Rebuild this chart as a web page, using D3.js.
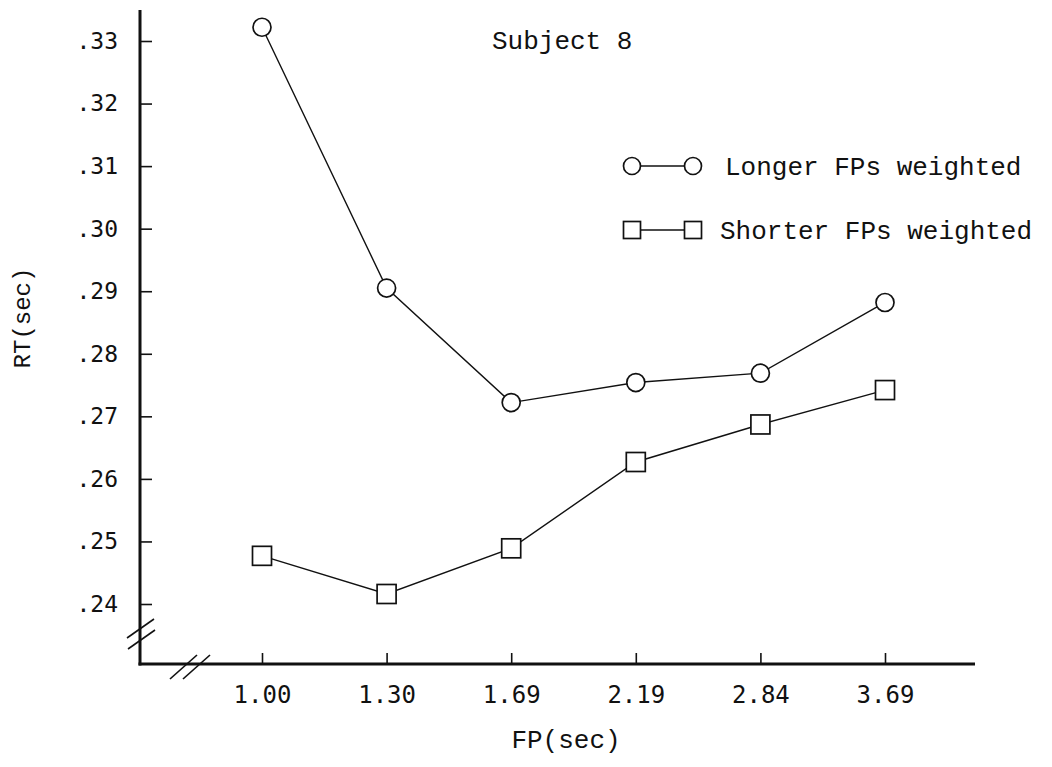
<!DOCTYPE html>
<html>
<head>
<meta charset="utf-8">
<script src="https://cdn.jsdelivr.net/npm/d3@7"></script>
<style>
  body { margin: 0; background: #fff; }
  svg { display: block; }
</style>
</head>
<body>
<svg id="chart"></svg>
<script>
// foreperiod categories (x) and mean RT per condition
var fpLabels = ["1.00", "1.30", "1.69", "2.19", "2.84", "3.69"];
var longerWeighted = [0.3322, 0.2905, 0.2722, 0.2754, 0.2769, 0.2882];
var shorterWeighted = [0.2477, 0.2416, 0.2489, 0.2627, 0.2687, 0.2742];
var rtTicks = [0.24, 0.25, 0.26, 0.27, 0.28, 0.29, 0.30, 0.31, 0.32, 0.33];
var legendNames = ["Longer FPs weighted", "Shorter FPs weighted"];

var svgWidth = 1052, svgHeight = 767;
var ink = "#111";
var mono = "'Liberation Mono', 'Courier New', monospace";
var tickFont = "'DejaVu Sans Mono', monospace";

var svg = d3.select("#chart")
    .attr("width", svgWidth)
    .attr("height", svgHeight);

var axisX0 = 140, axisY0 = 664; // where the two axes meet

var x = d3.scalePoint()
    .domain(fpLabels)
    .range([262, 885]);

var y = d3.scaleLinear()
    .domain([0.24, 0.33])
    .range([604, 41]);

// y axis ticks (pointing inward) + labels like ".33"
var yAxis = svg.append("g")
    .attr("transform", "translate(" + axisX0 + ",0)")
    .call(d3.axisLeft(y)
        .tickValues(rtTicks)
        .tickSize(-12)
        .tickPadding(22)
        .tickFormat(function(d) { return "." + Math.round(d * 100); }));
yAxis.select(".domain").remove();
yAxis.selectAll(".tick line").attr("stroke", ink).attr("stroke-width", 1.6);
yAxis.selectAll(".tick text")
    .attr("fill", ink)
    .style("font-family", tickFont)
    .style("font-size", "23px");

// x axis ticks (pointing up)
var xAxis = svg.append("g")
    .attr("transform", "translate(0," + axisY0 + ")")
    .call(d3.axisBottom(x)
        .tickSize(-11)
        .tickPadding(22));
xAxis.select(".domain").remove();
xAxis.selectAll(".tick line").attr("stroke", ink).attr("stroke-width", 1.6);
xAxis.selectAll(".tick text")
    .attr("fill", ink)
    .style("font-family", tickFont)
    .style("font-size", "24px");

// heavy axis lines
svg.append("line")
    .attr("x1", axisX0).attr("y1", 10)
    .attr("x2", axisX0).attr("y2", axisY0 + 1.5)
    .attr("stroke", ink).attr("stroke-width", 3);
svg.append("line")
    .attr("x1", axisX0 - 1.5).attr("y1", axisY0)
    .attr("x2", 975).attr("y2", axisY0)
    .attr("stroke", ink).attr("stroke-width", 3);

// break marks (//) on both axes
var breaks = [
    [[127, 638], [154, 619]], [[128, 649], [155, 630]],
    [[170, 679], [197, 655]], [[183, 679], [210, 655]]
];
svg.selectAll("line.break")
    .data(breaks)
    .enter().append("line")
    .attr("class", "break")
    .attr("x1", function(d) { return d[0][0]; })
    .attr("y1", function(d) { return d[0][1]; })
    .attr("x2", function(d) { return d[1][0]; })
    .attr("y2", function(d) { return d[1][1]; })
    .attr("stroke", ink).attr("stroke-width", 1.6);

// axis titles
svg.append("text")
    .attr("transform", "translate(30,318) rotate(-90)")
    .attr("text-anchor", "middle")
    .attr("fill", ink)
    .style("font-family", mono)
    .style("font-size", "24px")
    .text("RT(sec)");

svg.append("text")
    .attr("x", 566).attr("y", 748)
    .attr("text-anchor", "middle")
    .attr("fill", ink)
    .style("font-family", mono)
    .style("font-size", "26px")
    .text("FP(sec)");

svg.append("text")
    .attr("x", 492).attr("y", 49)
    .attr("fill", ink)
    .style("font-family", mono)
    .style("font-size", "26px")
    .text("Subject 8");

// series lines
var line = d3.line()
    .x(function(d, i) { return x(fpLabels[i]); })
    .y(function(d) { return y(d); });

[longerWeighted, shorterWeighted].forEach(function(series) {
    svg.append("path")
        .datum(series)
        .attr("fill", "none")
        .attr("stroke", ink)
        .attr("stroke-width", 1.4)
        .attr("d", line);
});

// circle markers
svg.selectAll("circle.longer")
    .data(longerWeighted)
    .enter().append("circle")
    .attr("class", "longer")
    .attr("cx", function(d, i) { return x(fpLabels[i]); })
    .attr("cy", function(d) { return y(d); })
    .attr("r", 9)
    .attr("fill", "#fff")
    .attr("stroke", ink)
    .attr("stroke-width", 1.7);

// square markers
var sq = 19;
svg.selectAll("rect.shorter")
    .data(shorterWeighted)
    .enter().append("rect")
    .attr("class", "shorter")
    .attr("x", function(d, i) { return x(fpLabels[i]) - sq / 2; })
    .attr("y", function(d) { return y(d) - sq / 2; })
    .attr("width", sq).attr("height", sq)
    .attr("fill", "#fff")
    .attr("stroke", ink)
    .attr("stroke-width", 1.7);

// legend
var legend = svg.append("g");
var rowY = [166, 230];

legendNames.forEach(function(name, i) {
    var cy = rowY[i];
    legend.append("line")
        .attr("x1", 632).attr("y1", cy)
        .attr("x2", 693).attr("y2", cy)
        .attr("stroke", ink).attr("stroke-width", 1.4);
    [632, 693].forEach(function(cx) {
        if (i == 0) {
            legend.append("circle")
                .attr("cx", cx).attr("cy", cy).attr("r", 8.5)
                .attr("fill", "#fff").attr("stroke", ink).attr("stroke-width", 1.7);
        } else {
            legend.append("rect")
                .attr("x", cx - 8.5).attr("y", cy - 8.5)
                .attr("width", 17).attr("height", 17)
                .attr("fill", "#fff").attr("stroke", ink).attr("stroke-width", 1.7);
        }
    });
    legend.append("text")
        .attr("x", i == 0 ? 725 : 720)
        .attr("y", cy + 9)
        .attr("fill", ink)
        .style("font-family", mono)
        .style("font-size", "26px")
        .text(name);
});
</script>
</body>
</html>
